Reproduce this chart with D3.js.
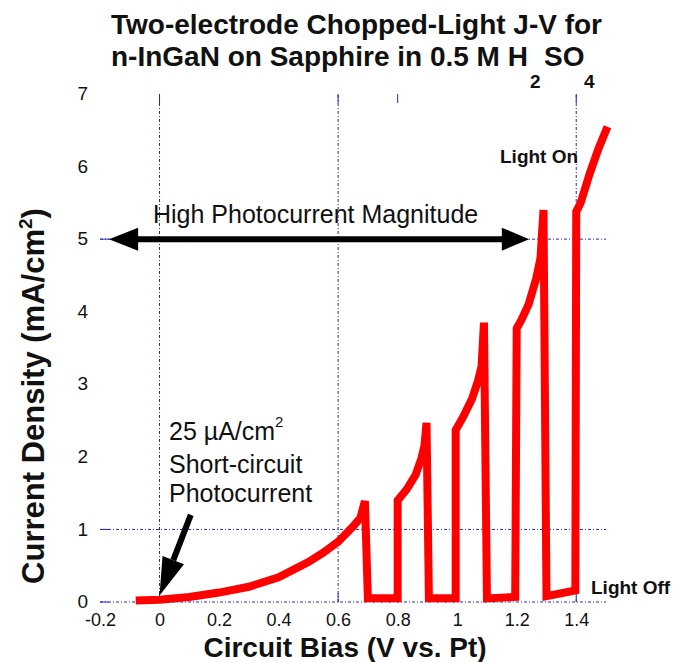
<!DOCTYPE html>
<html><head><meta charset="utf-8">
<script src="https://cdn.jsdelivr.net/npm/d3@7/dist/d3.min.js"></script>
<style>body{margin:0;background:#fff}svg{display:block}</style>
</head><body>
<svg id="chart" width="673" height="662"></svg>
<script>
// ---- data ----
const biasV = [-0.08,0,0.1,0.2,0.3,0.4,0.5,0.55,0.6,0.65,0.675,0.69,
  0.70,0.80,0.80,0.83,0.86,0.88,0.89,0.897,
  0.905,0.995,0.995,1.02,1.05,1.07,1.082,1.09,
  1.10,1.195,1.20,1.215,1.24,1.265,1.28,1.29,
  1.30,1.397,1.40,1.415,1.445,1.475,1.505];
const currentDensity = [0.02,0.03,0.07,0.13,0.21,0.34,0.55,0.68,0.83,1.04,1.16,1.39,
  0.05,0.05,1.40,1.55,1.75,1.98,2.15,2.47,
  0.05,0.05,2.37,2.55,2.80,3.05,3.25,3.85,
  0.05,0.07,3.77,3.88,4.10,4.45,4.74,5.40,
  0.08,0.16,5.38,5.50,5.90,6.25,6.55];
const xTickValues = [-0.2,0,0.2,0.4,0.6,0.8,1,1.2,1.4];
const xTickLabels = ["-0.2","0","0.2","0.4","0.6","0.8","1","1.2","1.4"];
const yTickValues = [0,1,2,3,4,5,6,7];
const yTickLabels = ["0","1","2","3","4","5","6","7"];
const hGrid = [0,1,5];
const vGrid = [0,0.6,1.4];
const edgeTicks = [0,0.6,0.8,1.4];

const svg = d3.select("#chart");
const x = d3.scaleLinear().domain([-0.2,1.5]).range([100,606]);
const y = d3.scaleLinear().domain([0,7]).range([602,94]);
const gridColor = "#2626c4";

// grid
svg.append("g").selectAll("line").data(hGrid).join("line")
  .attr("x1",x(-0.2)).attr("x2",x(1.5)).attr("y1",d=>y(d)).attr("y2",d=>y(d))
  .attr("stroke",gridColor).attr("stroke-width",1).attr("stroke-dasharray","3,2,1,2");
svg.append("g").selectAll("line").data(vGrid).join("line")
  .attr("x1",d=>x(d)).attr("x2",d=>x(d)).attr("y1",y(0)).attr("y2",y(7))
  .attr("stroke",gridColor).attr("stroke-width",1).attr("stroke-dasharray","3,2,1,2");
// edge ticks
svg.append("g").selectAll("line").data(edgeTicks).join("line")
  .attr("x1",d=>x(d)).attr("x2",d=>x(d)).attr("y1",y(7)).attr("y2",y(7)+9)
  .attr("stroke",gridColor).attr("stroke-width",1);
svg.append("g").selectAll("line").data(edgeTicks).join("line")
  .attr("x1",d=>x(d)).attr("x2",d=>x(d)).attr("y1",y(0)).attr("y2",y(0)-9)
  .attr("stroke",gridColor).attr("stroke-width",1);
svg.append("g").selectAll("line").data(hGrid).join("line")
  .attr("x1",x(-0.2)).attr("x2",x(-0.2)+9).attr("y1",d=>y(d)).attr("y2",d=>y(d))
  .attr("stroke",gridColor).attr("stroke-width",1);

const F="Liberation Sans, Arial, sans-serif";
// axes (labels only)
const xAxis = d3.axisBottom(x).tickValues(xTickValues).tickSize(0).tickPadding(0)
  .tickFormat((d,i)=>xTickLabels[i]);
const gx = svg.append("g").attr("transform","translate(0,613)").call(xAxis);
gx.select(".domain").remove();
gx.selectAll("text").attr("font-family",F)
  .attr("font-size",18).attr("fill","#111").attr("dy","0.71em");

const yAxis = d3.axisLeft(y).tickValues(yTickValues).tickSize(0).tickPadding(0)
  .tickFormat((d,i)=>yTickLabels[i]);
const gy = svg.append("g").attr("transform","translate(88,0)").call(yAxis);
gy.select(".domain").remove();
gy.selectAll("text").attr("font-family",F)
  .attr("font-size",19).attr("fill","#111").attr("dy","0.3em");

// curve
const line = d3.line().x((d,i)=>x(biasV[i])).y(d=>y(d));
svg.append("path").datum(currentDensity).attr("d",line)
  .attr("fill","none").attr("stroke","#ff0000").attr("stroke-width",8)
  .attr("stroke-linejoin","miter").attr("stroke-miterlimit",2);

// arrows
function arrowHead(tip, base, w){
  const dx=tip[0]-base[0], dy=tip[1]-base[1], L=Math.hypot(dx,dy);
  const nx=-dy/L*w/2, ny=dx/L*w/2;
  return `M${tip[0]},${tip[1]}L${base[0]+nx},${base[1]+ny}L${base[0]-nx},${base[1]-ny}Z`;
}
const ay = y(5);
svg.append("line").attr("x1",x(-0.1)).attr("x2",x(1.2)).attr("y1",ay).attr("y2",ay)
  .attr("stroke","#000").attr("stroke-width",6);
svg.append("path").attr("d",arrowHead([x(-0.17),ay],[x(-0.072),ay],23)).attr("fill","#000");
svg.append("path").attr("d",arrowHead([x(1.242),ay],[x(1.15),ay],23)).attr("fill","#000");

// short-circuit arrow
const tipS=[x(0),y(0.09)], startS=[x(0.105),y(1.2)];
const ang=Math.atan2(tipS[1]-startS[1],tipS[0]-startS[0]);
const baseS=[tipS[0]-38*Math.cos(ang), tipS[1]-38*Math.sin(ang)];
svg.append("line").attr("x1",startS[0]).attr("y1",startS[1]).attr("x2",baseS[0]).attr("y2",baseS[1])
  .attr("stroke","#000").attr("stroke-width",6);
svg.append("path").attr("d",arrowHead(tipS,baseS,23)).attr("fill","#000");

// texts
function txt(s,xx,yy,size,weight,anchor){
  return svg.append("text").attr("x",xx).attr("y",yy).attr("font-family",F)
    .attr("font-size",size).attr("font-weight",weight||"normal")
    .attr("text-anchor",anchor||"start").attr("fill","#111").text(s);
}
txt("Two-electrode Chopped-Light J-V for",111,34,28,"bold");
txt("n-InGaN on Sapphire in 0.5 M H",111,66,28,"bold");
txt("2",530,88,19,"bold");
txt("SO",544,66,28,"bold");
txt("4",584,88,19,"bold");

txt("High Photocurrent Magnitude",153,223,25);
const t25 = txt("25 \u00B5A/cm",169,440,25);
t25.append("tspan").attr("font-size",15).attr("dy",-13).text("2");
txt("Short-circuit",169,473,25);
txt("Photocurrent",169,502,25);
txt("Light On",500,163,19,"bold");
txt("Light Off",591,594,19,"bold");

txt("Circuit Bias (V vs. Pt)",345,657,28,"bold","middle");
const yt = svg.append("text").attr("transform","translate(44,396) rotate(-90)")
  .attr("font-family",F).attr("font-size",31).attr("font-weight","bold")
  .attr("text-anchor","middle").attr("fill","#111");
yt.append("tspan").text("Current Density (mA/cm");
yt.append("tspan").attr("font-size",19).attr("dy",-12).text("2");
yt.append("tspan").attr("dy",12).text(")");
</script>
</body></html>
